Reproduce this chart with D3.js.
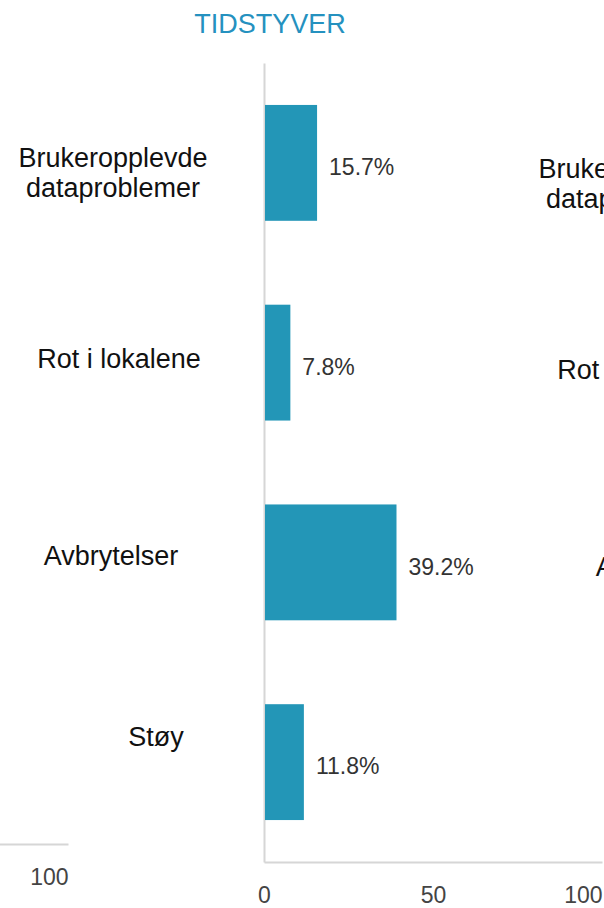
<!DOCTYPE html>
<html>
<head>
<meta charset="utf-8">
<script src="https://cdn.jsdelivr.net/npm/d3@7"></script>
<style>
  body { margin: 0; background: #fff; }
  svg { display: block; font-family: "Liberation Sans", Arial, sans-serif; }
</style>
</head>
<body>
<div id="chart"></div>
<script>
// chart data
var title = "TIDSTYVER";
var categories = ["Brukeropplevde dataproblemer", "Rot i lokalene", "Avbrytelser", "Støy"];
var labelLines = [["Brukeropplevde", "dataproblemer"], ["Rot i lokalene"], ["Avbrytelser"], ["Støy"]];
var values = [15.7, 7.8, 39.2, 11.8];
var xTicks = [0, 50, 100];

// layout: the original labels sit a little off their bars
var labelShift = [[-5, 9], [1, -4], [-7, -7], [38, -26]];
var neighbourShift = [[-5, 9], [1, -4], [25, -7], [38, -26]];

var width = 604, height = 908;
var barColor = "#2396b7";

var svg = d3.select("#chart")
  .append("svg")
  .attr("width", width)
  .attr("height", height);

// scales
var x = d3.scaleLinear()
  .domain([0, 100])
  .range([264, 602]);

var y = d3.scaleBand()
  .domain(categories)
  .range([63, 862])
  .paddingInner(0.42)
  .paddingOuter(0.21);

// x axis (bottom) - reused for the neighbouring panel fragment
function drawXAxis(g) {
  var ax = g.append("g")
    .attr("transform", "translate(0,862)")
    .call(d3.axisBottom(x).tickValues(xTicks).tickSize(0).tickSizeOuter(0).tickPadding(25));
  ax.select(".domain").attr("stroke", "#d6d6d6").attr("stroke-width", 2);
  ax.selectAll("text")
    .attr("font-size", 23)
    .attr("fill", "#444")
    .attr("font-family", "Liberation Sans, Arial, sans-serif");
  ax.selectAll(".tick:last-of-type text").attr("text-anchor", "end");
}

// category labels on the left
function drawLabels(g, shift) {
  var lab = g.selectAll(".cat")
    .data(categories)
    .enter()
    .append("text")
    .attr("class", "cat")
    .attr("text-anchor", "middle")
    .attr("font-size", 27)
    .attr("fill", "#111");
  lab.each(function(d, i) {
    var lines = labelLines[i];
    var cx = 118 + shift[i][0];
    var cy = y(d) + y.bandwidth() / 2 + shift[i][1];
    var lh = 30;
    d3.select(this).selectAll("tspan")
      .data(lines)
      .enter()
      .append("tspan")
      .attr("x", cx)
      .attr("y", function(l, j) { return cy + (j - (lines.length - 1) / 2) * lh; })
      .attr("dy", "0.36em")
      .text(function(l) { return l; });
  });
}

// neighbour panels cut off at the edges
drawXAxis(svg.append("g").attr("transform", "translate(-534,-18)"));
drawLabels(svg.append("g").attr("transform", "translate(520,11)"), neighbourShift);

// main panel
var main = svg.append("g");

main.append("text")
  .attr("x", 270)
  .attr("y", 33)
  .attr("text-anchor", "middle")
  .attr("font-size", 27)
  .attr("fill", "#2591bf")
  .text(title);

var yAxis = main.append("g")
  .attr("transform", "translate(264,0)")
  .call(d3.axisLeft(y).tickSize(0).tickSizeOuter(0).tickFormat(""));
yAxis.select(".domain").attr("stroke", "#d6d6d6").attr("stroke-width", 2);

drawXAxis(main);
drawLabels(main, labelShift);

main.selectAll(".bar")
  .data(values)
  .enter()
  .append("rect")
  .attr("class", "bar")
  .attr("x", x(0) + 1)
  .attr("y", function(d, i) { return y(categories[i]); })
  .attr("width", function(d) { return x(d) - x(0) - 1; })
  .attr("height", y.bandwidth())
  .attr("fill", barColor);

main.selectAll(".val")
  .data(values)
  .enter()
  .append("text")
  .attr("class", "val")
  .attr("x", function(d) { return x(d) + 12; })
  .attr("y", function(d, i) { return y(categories[i]) + y.bandwidth() / 2 + 4; })
  .attr("dy", "0.36em")
  .attr("font-size", 23)
  .attr("fill", "#333")
  .text(function(d) { return d.toFixed(1) + "%"; });
</script>
</body>
</html>
